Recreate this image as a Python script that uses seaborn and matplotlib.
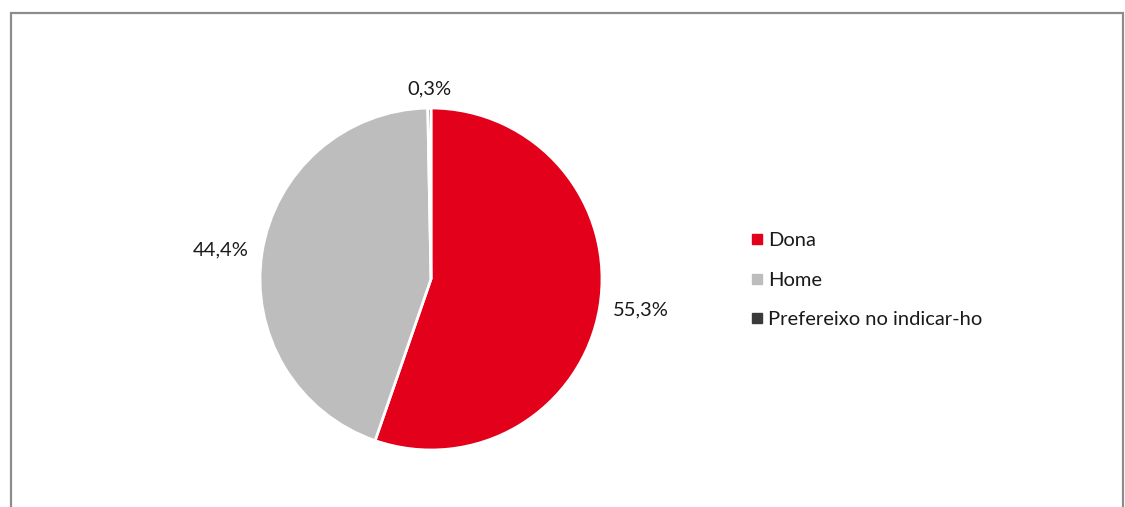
import numpy as np
import matplotlib
matplotlib.use("Agg")
import matplotlib.pyplot as plt
from matplotlib.patches import Rectangle
from matplotlib.lines import Line2D
import seaborn as sns

categories = ["Dona", "Home", "Prefereixo no indicar-ho"]
values = [55.3, 44.4, 0.3]
colors = ["#E2001A", "#BDBDBD", "#3A3A3A"]

sns.set_theme(style="white")
plt.rcParams["font.family"] = ["Lato", "DejaVu Sans"]

W, H = 1125, 507
fig = plt.figure(figsize=(W / 100, H / 100), dpi=100)

# outer frame (open at the bottom edge)
fig.add_artist(Rectangle((10.5 / W, -0.1), (1123 - 10.5) / W, (H - 12.5) / H + 0.1,
                         transform=fig.transFigure, fill=False,
                         edgecolor="#8C8C8C", linewidth=1.6))

cx, cy, r = 431, 279, 171
ax = fig.add_axes([(cx - r) / W, (H - cy - r) / H, 2 * r / W, 2 * r / H])
wedges, _ = ax.pie(values, colors=colors, startangle=90, counterclock=False,
                   radius=1.0, wedgeprops=dict(edgecolor="white", linewidth=2))
ax.set_xlim(-1, 1)
ax.set_ylim(-1, 1)
ax.set_aspect("equal")
ax.axis("off")

# value labels just outside each slice
for w, v in zip(wedges, values):
    ang = np.deg2rad((w.theta1 + w.theta2) / 2)
    x, y = np.cos(ang), np.sin(ang)
    if abs(x) > abs(y):
        d = 1.08
        ha, va = ("left" if x > 0 else "right"), "center"
    else:
        d = 1.06
        ha, va = "center", ("bottom" if y > 0 else "top")
    ax.text(d * x, d * y, f"{v:.1f}%".replace(".", ","), ha=ha, va=va,
            fontsize=14.5, color="#1A1A1A", clip_on=False)

handles = [Line2D([], [], marker="s", linestyle="none", markersize=7,
                  markerfacecolor=c, markeredgecolor=c) for c in colors]
fig.legend(handles, categories, loc="center left", bbox_to_anchor=(740 / W, 1 - 280 / H),
           frameon=False, fontsize=14.5, labelspacing=1.12, handletextpad=0.2,
           handlelength=0.7, borderpad=0, labelcolor="#1A1A1A")

fig.savefig("out.png", dpi=100, facecolor="white")
